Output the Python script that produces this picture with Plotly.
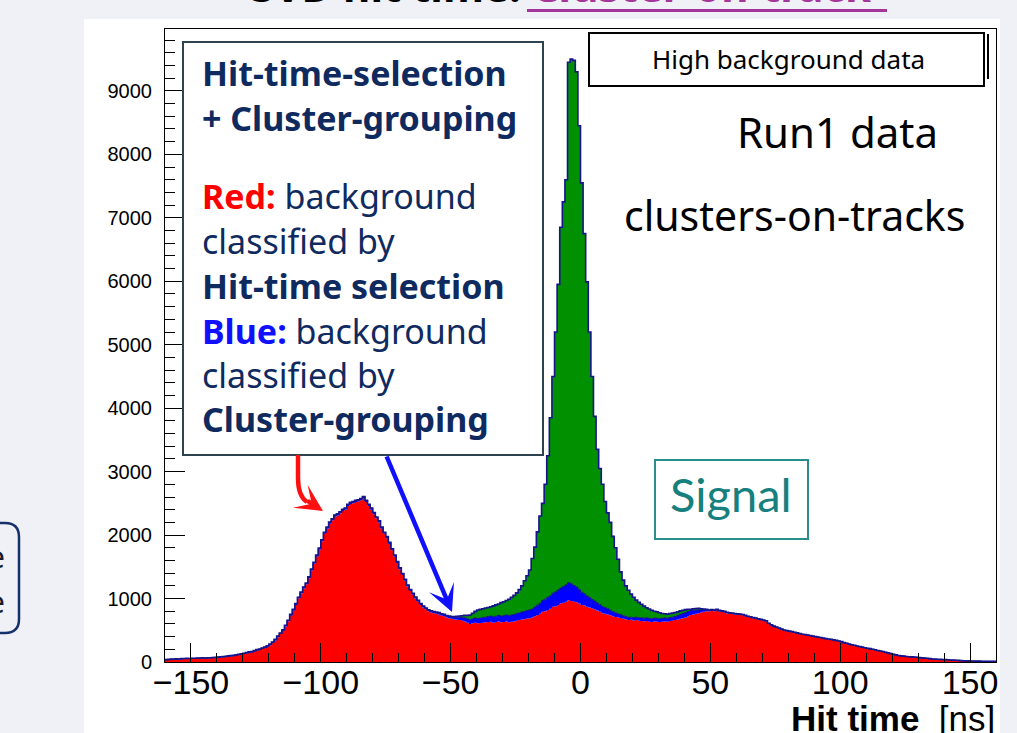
import numpy as np
import plotly.graph_objects as go

# ---------------- data (1 ns bins) ----------------
bin_edges = list(range(-160, 161))

red = [
    30, 35, 38, 40, 42, 40, 45, 48, 50, 48,            # -160..-151
    52, 50, 55, 53, 58, 55, 60, 58, 62, 65,            # -150..-141
    68, 72, 75, 80, 85, 90, 95, 100, 110, 118,         # -140..-131
    125, 135, 145, 150, 165, 180, 190, 205, 220, 240,  # -130..-121
    265, 300, 340, 390, 440, 490, 560, 640, 730, 810,  # -120..-111
    900, 1000, 1080, 1160, 1220, 1320, 1440, 1550, 1660, 1770,  # -110..-101
    1900, 2020, 2100, 2180, 2230, 2290, 2310, 2340, 2380, 2400,  # -100..-91
    2460, 2490, 2500, 2520, 2530, 2550, 2580, 2520, 2460, 2400,  # -90..-81
    2330, 2260, 2200, 2100, 2020, 1950, 1860, 1760, 1660, 1560,  # -80..-71
    1460, 1370, 1280, 1190, 1120, 1060, 1000, 950, 900, 860,     # -70..-61
    830, 800, 780, 770, 760, 750, 730, 720, 700, 690,  # -60..-51
    680, 670, 665, 660, 650, 640, 620, 600, 610, 620,  # -50..-41
    610, 615, 620, 625, 630, 635, 620, 630, 640, 625,  # -40..-31
    630, 640, 625, 635, 640, 650, 660, 670, 675, 685,  # -30..-21
    690, 700, 720, 740, 760, 790, 800, 820, 840, 870,  # -20..-11
    880, 900, 920, 935, 950, 975, 960, 950, 940, 920,  # -10..-1
    900, 890, 870, 860, 845, 830, 810, 790, 770, 760,  # 0..9
    750, 735, 720, 710, 700, 695, 680, 670, 660, 665,  # 10..19
    655, 660, 650, 645, 640, 645, 635, 630, 640, 635,  # 20..29
    630, 635, 640, 635, 645, 650, 660, 670, 680, 690,  # 30..39
    700, 720, 740, 750, 760, 770, 780, 790, 800, 795,  # 40..49
    805, 800, 810, 795, 790, 780, 770, 760, 755, 750,  # 50..59
    745, 740, 735, 720, 710, 700, 690, 680, 670, 660,  # 60..69
    650, 640, 600, 575, 555, 540, 525, 510, 495, 485,  # 70..79
    478, 470, 460, 450, 440, 430, 425, 418, 410, 400,  # 80..89
    392, 385, 378, 370, 362, 355, 350, 342, 335, 325,  # 90..99
    315, 300, 290, 278, 268, 258, 248, 240, 230, 220,  # 100..109
    212, 205, 196, 188, 178, 170, 162, 150, 140, 128,  # 110..119
    118, 108, 98, 92, 88, 84, 80, 78, 75, 72,          # 120..129
    68, 62, 58, 55, 50, 45, 42, 40, 38, 36,            # 130..139
    35, 33, 30, 28, 26, 24, 20, 18, 16, 15,            # 140..149
    14, 13, 12, 12, 11, 10, 10, 9, 9, 8,               # 150..159
]

blue = [
    5, 5, 6, 5, 6, 5, 6, 6, 5, 6,
    6, 6, 5, 7, 6, 6, 7, 6, 7, 7,
    7, 8, 7, 8, 8, 9, 8, 9, 9, 10,
    10, 10, 11, 10, 11, 12, 11, 12, 12, 13,
    13, 13, 14, 14, 14, 15, 15, 15, 16, 16,
    16, 17, 17, 17, 18, 18, 18, 18, 19, 19,
    19, 20, 20, 20, 20, 21, 21, 21, 21, 22,
    22, 22, 22, 22, 22, 22, 22, 22, 22, 22,
    21, 21, 21, 21, 20, 20, 20, 20, 20, 19,
    19, 19, 19, 19, 18, 18, 18, 18, 18, 18,
    18, 19, 20, 21, 22, 24, 25, 27, 28, 30,            # -60..-51
    32, 35, 40, 45, 50, 55, 60, 65, 68, 72,            # -50..-41
    75, 78, 80, 82, 85, 88, 90, 92, 95, 98,            # -40..-31
    100, 102, 105, 108, 110, 112, 115, 118, 120, 125,  # -30..-21
    130, 135, 145, 155, 165, 180, 190, 200, 205, 215,  # -20..-11
    225, 235, 245, 255, 265, 275, 270, 255, 240, 220,  # -10..-1
    200, 185, 170, 155, 140, 130, 120, 110, 103, 95,   # 0..9
    88, 80, 72, 65, 58, 52, 48, 45, 42, 42,            # 10..19
    44, 46, 48, 50, 50, 52, 52, 52, 53, 53,            # 20..29
    53, 54, 54, 55, 55, 56, 58, 62, 68, 74,            # 30..39
    78, 76, 72, 65, 58, 50, 40, 30, 22, 18,            # 40..49
    15, 14, 13, 13, 12, 12, 11, 11, 11, 10,
    10, 10, 10, 10, 9, 9, 9, 9, 9, 9,
    9, 8, 8, 8, 8, 8, 8, 7, 7, 7,
    7, 7, 7, 7, 6, 6, 6, 6, 6, 6,
    6, 6, 5, 5, 5, 5, 5, 5, 5, 5,
    5, 5, 5, 4, 4, 4, 4, 4, 4, 4,
    4, 4, 4, 3, 3, 3, 3, 3, 3, 3,
    3, 3, 3, 3, 3, 2, 2, 2, 2, 2,
    2, 2, 2, 2, 2, 2, 2, 2, 2, 2,
    2, 2, 1, 1, 1, 1, 1, 1, 1, 1,
    1, 1, 1, 1, 1, 1, 1, 1, 1, 1,
]

green = [
    2, 1, 2, 2, 1, 2, 2, 1, 2, 2,
    2, 2, 1, 2, 2, 2, 1, 2, 2, 2,
    2, 2, 2, 2, 3, 2, 2, 3, 2, 3,
    3, 2, 3, 3, 3, 3, 2, 3, 3, 3,
    3, 3, 3, 4, 3, 3, 4, 3, 4, 4,
    4, 4, 4, 4, 5, 4, 5, 4, 5, 5,
    5, 5, 5, 5, 5, 5, 5, 5, 5, 5,
    5, 5, 5, 5, 5, 5, 5, 5, 5, 5,
    5, 5, 5, 5, 5, 5, 5, 5, 5, 5,
    5, 5, 5, 5, 5, 5, 5, 5, 5, 5,
    4, 4, 5, 4, 5, 4, 5, 5, 4, 5,                      # -60..-51
    5, 10, 15, 20, 30, 40, 55, 75, 90, 105,            # -50..-41
    135, 137, 140, 143, 145, 147, 175, 178, 180, 212,  # -40..-31
    220, 228, 260, 277, 300, 328, 365, 412, 485, 550,  # -30..-21
    630, 795, 945, 1155, 1375, 1530, 1810, 2230, 2805, 3415,   # -20..-11
    4095, 4815, 5685, 6060, 6385, 8200, 8270, 8275, 8120, 7310,  # -10..-1
    6450, 5675, 4950, 4185, 3515, 2910, 2420, 2150, 1927, 1675,  # 0..9
    1512, 1385, 1188, 1025, 862, 673, 562, 485, 428, 363,        # 10..19
    321, 269, 242, 215, 190, 158, 148, 133, 107, 102,  # 20..29
    92, 76, 66, 65, 65, 64, 62, 58, 57, 51,            # 30..39
    47, 36, 18, 23, 24, 25, 20, 15, 8, 7,              # 40..49
    6, 5, 6, 5, 5, 5, 4, 5, 4, 4,
    4, 4, 4, 4, 3, 4, 3, 3, 3, 3,
    3, 3, 3, 3, 3, 2, 3, 2, 2, 2,
    2, 2, 2, 2, 2, 2, 2, 2, 2, 2,
    2, 2, 2, 2, 2, 2, 1, 2, 1, 1,
    1, 1, 1, 1, 1, 1, 1, 1, 1, 1,
    1, 1, 1, 1, 1, 1, 1, 1, 1, 1,
    1, 1, 1, 1, 1, 1, 1, 1, 1, 1,
    1, 1, 1, 1, 1, 1, 1, 1, 1, 1,
    1, 1, 1, 1, 1, 1, 1, 1, 1, 1,
    1, 1, 1, 1, 1, 1, 1, 1, 1, 1,
]

x_ticks = [-150, -100, -50, 0, 50, 100, 150]
y_ticks = [0, 1000, 2000, 3000, 4000, 5000, 6000, 7000, 8000, 9000]

# ---------------- geometry helpers (page pixels -> paper) ----------------
W, H = 1017, 733
L, R, T, B = 165, 996, 29, 662


def fx(px):
    return (px - L) / (R - L)


def fy(py):
    return (B - py) / (B - T)


def path(cmds):
    out = []
    for c in cmds:
        if isinstance(c, str):
            out.append(c)
        else:
            out.append(f"{fx(c[0]):.5f},{fy(c[1]):.5f}")
    return " ".join(out)


r = np.array(red, dtype=float)
b = np.array(blue, dtype=float)
g = np.array(green, dtype=float)
lvl1 = r
lvl2 = r + b
lvl3 = r + b + g


def step(y):
    return np.append(y, y[-1])


NAVY = "#14148c"
fig = go.Figure()
fig.add_trace(go.Scatter(x=bin_edges, y=step(lvl1), mode="lines",
                         line=dict(shape="hv", width=0, color="#ff0000"),
                         fill="tozeroy", fillcolor="#ff0000", hoverinfo="skip"))
fig.add_trace(go.Scatter(x=bin_edges, y=step(lvl2), mode="lines",
                         line=dict(shape="hv", width=0, color="#0000ff"),
                         fill="tonexty", fillcolor="#0000ff", hoverinfo="skip"))
fig.add_trace(go.Scatter(x=bin_edges, y=step(lvl3), mode="lines",
                         line=dict(shape="hv", width=0, color="#009000"),
                         fill="tonexty", fillcolor="#009000", hoverinfo="skip"))
fig.add_trace(go.Scatter(x=bin_edges, y=step(lvl2), mode="lines",
                         line=dict(shape="hv", width=1, color=NAVY), hoverinfo="skip"))
fig.add_trace(go.Scatter(x=bin_edges, y=step(lvl3), mode="lines",
                         line=dict(shape="hv", width=1.6, color=NAVY), hoverinfo="skip"))

shapes = []
# white slide panel
shapes.append(dict(type="rect", xref="paper", yref="paper", layer="below",
                   x0=fx(84), x1=fx(1000), y0=fy(740), y1=fy(19),
                   fillcolor="white", line=dict(width=0)))
# partial rounded box on the far left
shapes.append(dict(type="path", xref="paper", yref="paper",
                   path=path(["M", (-20, 523), "L", (5, 523), "Q", (19, 523), (19, 537),
                              "L", (19, 619), "Q", (19, 633), (5, 633), "L", (-20, 633)]),
                   line=dict(color="#15306b", width=2.5)))
# title underline
shapes.append(dict(type="line", xref="paper", yref="paper",
                   x0=fx(527), x1=fx(887), y0=fy(10.5), y1=fy(10.5),
                   line=dict(color="#a3359b", width=3)))
# left explanation box
shapes.append(dict(type="rect", xref="paper", yref="paper",
                   x0=fx(183), x1=fx(543), y0=fy(455), y1=fy(42),
                   fillcolor="white", line=dict(color="#2d4350", width=2)))
# "High background data" box + shadow
shapes.append(dict(type="line", xref="paper", yref="paper",
                   x0=fx(988), x1=fx(988), y0=fy(34), y1=fy(79),
                   line=dict(color="black", width=2)))
shapes.append(dict(type="rect", xref="paper", yref="paper",
                   x0=fx(589), x1=fx(984), y0=fy(86), y1=fy(33),
                   fillcolor="white", line=dict(color="black", width=2)))
# Signal box
shapes.append(dict(type="rect", xref="paper", yref="paper",
                   x0=fx(655), x1=fx(808), y0=fy(539), y1=fy(460),
                   fillcolor="white", line=dict(color="#2a8f8c", width=2)))
# red curved arrow shaft
shapes.append(dict(type="path", xref="paper", yref="paper",
                   path=path(["M", (298, 455), "L", (298, 478), "Q", (298, 496), (307, 502)]),
                   line=dict(color="#ff1010", width=4.5)))

ann = []


def text(px, py, s, size, color, family="Noto Sans", xanchor="left"):
    ann.append(dict(xref="paper", yref="paper", x=fx(px), y=fy(py), text=s,
                    showarrow=False, xanchor=xanchor, yanchor="middle",
                    font=dict(family=family, size=size, color=color)))


# title (cut by the top edge)
text(561, -14, "<b>SVD hit time: <span style='color:#a3359b'>Cluster-on-track</span></b>",
     42, "black", xanchor="center")

NAVY_T = "#0f2a5f"
text(200, 72.8, "<b>Hit-time-selection</b>", 34, NAVY_T)
text(200, 117.8, "<b>+ Cluster-grouping</b>", 34, NAVY_T)
text(200, 195.8, "<b><span style='color:#ff0000'>Red:</span></b> background", 34, NAVY_T)
text(200, 240.8, "classified by", 34, NAVY_T)
text(200, 285.8, "<b>Hit-time selection</b>", 34, NAVY_T)
text(200, 330.8, "<b><span style='color:#1010ff'>Blue:</span></b> background", 34, NAVY_T)
text(200, 374.8, "classified by", 34, NAVY_T)
text(200, 418.8, "<b>Cluster-grouping</b>", 34, NAVY_T)

text(788, 58.5, "High background data", 26, "black", xanchor="center")
text(837, 131.7, "Run1 data", 42, "black", xanchor="center")
text(794, 215, "clusters-on-tracks", 41, "black", xanchor="center")
text(730.5, 494, "Signal", 47, "#16807e", family="Lato", xanchor="center")

text(7, 556.4, "e", 30, "#1a1a2e", xanchor="right")
text(7, 601.4, "e", 30, "#1a1a2e", xanchor="right")

text(997, 718, "<b>Hit time</b>  [ns]", 35, "black", family="Liberation Sans", xanchor="right")

# arrows
ann.append(dict(xref="paper", yref="paper", x=fx(452), y=fy(612), ax=-66, ay=-157,
                axref="pixel", ayref="pixel", text="", showarrow=True,
                arrowhead=3, arrowsize=1, arrowwidth=4.5, arrowcolor="#1010ff", standoff=0))
ann.append(dict(xref="paper", yref="paper", x=fx(323), y=fy(511), ax=-17, ay=-11,
                axref="pixel", ayref="pixel", text="", showarrow=True,
                arrowhead=3, arrowsize=1, arrowwidth=4.5, arrowcolor="#ff1010", standoff=0))

fig.update_layout(
    width=W, height=H,
    margin=dict(l=L, r=W - R, t=T, b=H - B, pad=0),
    paper_bgcolor="#f0f1f6", plot_bgcolor="white",
    showlegend=False, shapes=shapes, annotations=ann,
)
fig.update_xaxes(
    range=[-160, 160], tickvals=x_ticks, ticks="inside", ticklen=19, tickwidth=1,
    tickcolor="black", showline=True, linecolor="black", linewidth=1, mirror=True,
    showgrid=False, zeroline=False, ticklabelstandoff=-10,
    tickfont=dict(family="Liberation Sans", size=34, color="black"),
    minor=dict(ticks="inside", ticklen=9, dtick=10, tick0=0, tickcolor="black", showgrid=False),
)
fig.update_yaxes(
    range=[0, 9975], tickvals=y_ticks, ticks="inside", ticklen=20, tickwidth=1,
    tickcolor="black", showline=True, linecolor="black", linewidth=1, mirror=True,
    showgrid=False, zeroline=False, ticklabelstandoff=8,
    tickfont=dict(family="Liberation Sans", size=20, color="black"),
    minor=dict(ticks="inside", ticklen=10, dtick=200, tick0=0, tickcolor="black", showgrid=False),
)

fig.write_html(
    "out.html",
    config={"displayModeBar": False},
    post_script="document.body.style.margin='0px';document.body.style.overflow='hidden';"
                "document.body.style.background='#f0f1f6';",
)
